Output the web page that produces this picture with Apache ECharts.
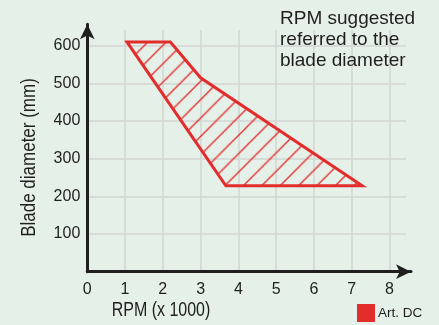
<!DOCTYPE html>
<html>
<head>
<meta charset="utf-8">
<script src="https://cdn.jsdelivr.net/npm/echarts@6/dist/echarts.min.js"></script>
<style>
  html, body { margin: 0; padding: 0; background: #e5f0e8; }
  #chart { width: 439px; height: 325px; }
</style>
</head>
<body>
<div id="chart"></div>
<script>
// Suggested working area: RPM (x 1000) against blade diameter (mm)
const polyRpm      = [1.05, 2.2, 3.0, 7.28, 3.67];
const polyDiameter = [610,  610, 515, 228,  228];

const xTickLabels = ['0', '1', '2', '3', '4', '5', '6', '7', '8'];
const yTickLabels = ['', '100', '200', '300', '400', '500', '600'];

const seriesName = 'Art. DC';
const titleLines = ['RPM suggested', 'referred to the', 'blade diameter'];
const xAxisTitle = 'RPM (x 1000)';
const yAxisTitle = 'Blade diameter (mm)';

// ---- layout (pixels) ----
const X0 = 87.3, XU = 37.76;        // x = 0 position, pixels per 1000 rpm
const Y0 = 271.7, YU = 0.3766;      // y = 0 position, pixels per mm
const ARROW = [11, 15];             // arrow head width, length
const arrowTipX = 418.5, arrowTipY = 16.7;
const axisEndX = arrowTipX - ARROW[1] / 2;
const axisEndY = arrowTipY + ARROW[1] / 2;
const gridEndX = 406, gridEndY = 30;

const RED = '#e32d2d';
const INK = '#1f1f1f';
const GRID = '#d2d6d4';
const SANS = '"Liberation Sans", Arial, sans-serif';

// diagonal hatch tile for the area fill
function hatchTile(size, color, width) {
  const c = document.createElement('canvas');
  c.width = size; c.height = size;
  const g = c.getContext('2d');
  g.strokeStyle = color;
  g.lineWidth = width;
  g.beginPath();
  g.moveTo(-1, size + 1); g.lineTo(size + 1, -1);
  g.moveTo(-1, 1); g.lineTo(1, -1);
  g.moveTo(size - 1, size + 1); g.lineTo(size + 1, size - 1);
  g.stroke();
  return c;
}
const TILE = 18;
const hatchFill = {
  image: hatchTile(TILE, RED, 1.3),
  repeat: 'repeat',
  x: 5.8,
  scaleX: 18.4 / TILE,
  scaleY: 18.4 / TILE
};

const chart = echarts.init(document.getElementById('chart'), null, { renderer: 'canvas' });

chart.setOption({
  backgroundColor: '#e5f0e8',
  animation: false,
  title: {
    text: titleLines.join('\n'),
    left: 280,
    top: 8,
    padding: 0,
    textStyle: {
      fontFamily: SANS,
      fontSize: 19,
      lineHeight: 21,
      fontWeight: 'normal',
      color: INK
    }
  },
  legend: {
    data: [{ name: seriesName, icon: 'rect', itemStyle: { color: RED, borderWidth: 0 } }],
    left: 357,
    top: 304,
    padding: 0,
    itemWidth: 18,
    itemHeight: 18,
    selectedMode: false,
    textStyle: { fontFamily: SANS, fontSize: 13.5, color: INK, padding: [2, 0, 0, -2] }
  },
  grid: [
    // axis lines with arrow heads
    { left: X0, top: axisEndY, width: axisEndX - X0, height: Y0 - axisEndY },
    // grid lines and tick labels
    { left: X0, top: gridEndY, width: gridEndX - X0, height: Y0 - gridEndY }
  ],
  xAxis: [
    {
      gridIndex: 0, type: 'value', min: 0, max: (axisEndX - X0) / XU,
      axisLine: { show: true, symbol: ['none', 'arrow'], symbolSize: ARROW,
                  lineStyle: { color: INK, width: 3 } },
      axisTick: { show: false }, axisLabel: { show: false }, splitLine: { show: false }
    },
    {
      gridIndex: 1, type: 'value', min: 0, max: (gridEndX - X0) / XU, interval: 1,
      axisLine: { show: false }, axisTick: { show: false },
      splitLine: { show: true, showMinLine: false, showMaxLine: false,
                   lineStyle: { color: GRID, width: 1.5 } },
      axisLabel: {
        margin: 10, fontFamily: SANS, fontSize: 16, color: INK,
        formatter: v => (Number.isInteger(v) && xTickLabels[v] !== undefined) ? xTickLabels[v] : ''
      }
    }
  ],
  yAxis: [
    {
      gridIndex: 0, type: 'value', min: 0, max: (Y0 - axisEndY) / YU,
      axisLine: { show: true, symbol: ['none', 'arrow'], symbolSize: ARROW,
                  lineStyle: { color: INK, width: 3 } },
      axisTick: { show: false }, axisLabel: { show: false }, splitLine: { show: false }
    },
    {
      gridIndex: 1, type: 'value', min: 0, max: (Y0 - gridEndY) / YU, interval: 100,
      axisLine: { show: false }, axisTick: { show: false },
      splitLine: { show: true, showMinLine: false, showMaxLine: false,
                   lineStyle: { color: GRID, width: 1.5 } },
      axisLabel: {
        margin: 7, fontFamily: SANS, fontSize: 16, color: INK,
        formatter: v => {
          const i = Math.round(v / 100);
          return (i * 100 === v && yTickLabels[i] !== undefined) ? yTickLabels[i] : '';
        }
      }
    }
  ],
  graphic: [
    {
      // condensed axis titles: regular face narrowed along the text direction
      type: 'text', x: 161, y: 310, scaleX: 0.8,
      style: { text: xAxisTitle, fontFamily: SANS, fontSize: 20, fill: INK,
               textAlign: 'center', textVerticalAlign: 'middle' }
    },
    {
      type: 'text', x: 29, y: 157.5, rotation: Math.PI / 2, scaleX: 0.85,
      style: { text: yAxisTitle, fontFamily: SANS, fontSize: 20, fill: INK,
               textAlign: 'center', textVerticalAlign: 'middle' }
    }
  ],
  series: [
    {
      type: 'custom',
      name: seriesName,
      coordinateSystem: 'cartesian2d',
      xAxisIndex: 1,
      yAxisIndex: 1,
      clip: false,
      itemStyle: { color: RED },
      data: polyRpm.map((x, i) => [x, polyDiameter[i]]),
      encode: { x: 0, y: 1 },
      renderItem: (params, api) => {
        if (params.dataIndex !== 0) return;
        const points = polyRpm.map((x, i) => api.coord([x, polyDiameter[i]]));
        return {
          type: 'polygon',
          shape: { points },
          style: { fill: hatchFill, stroke: RED, lineWidth: 3, lineJoin: 'miter', miterLimit: 10 }
        };
      }
    }
  ]
});
</script>
</body>
</html>
